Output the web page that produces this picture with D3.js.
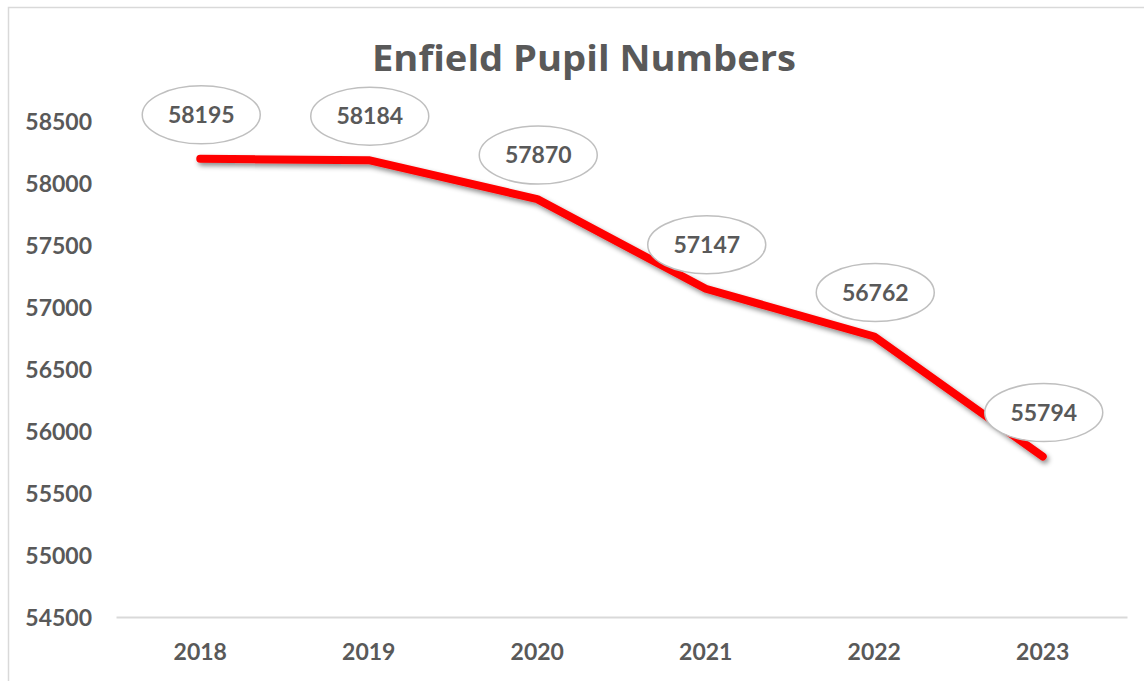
<!DOCTYPE html>
<html>
<head>
<meta charset="utf-8">
<script src="https://cdn.jsdelivr.net/npm/d3@7"></script>
<style>
  html, body { margin: 0; padding: 0; background: #fff; }
  svg { display: block; }
  text { font-family: Lato, "Open Sans", sans-serif; font-weight: 700; fill: #595959; }
</style>
</head>
<body>
<svg id="chart" width="1144" height="681"></svg>
<script>
const title = "Enfield Pupil Numbers";
const years = ["2018", "2019", "2020", "2021", "2022", "2023"];
const pupils = [58195, 58184, 57870, 57147, 56762, 55794];
const yTicks = [54500, 55000, 55500, 56000, 56500, 57000, 57500, 58000, 58500];

const svg = d3.select("#chart");
const W = 1144, H = 681;
const plot = { left: 116, right: 1127, top: 121, bottom: 617 };

svg.append("rect").attr("x", 0).attr("y", 0).attr("width", W).attr("height", H).attr("fill", "#fff");
svg.append("rect").attr("x", 8.5).attr("y", 7.5).attr("width", W + 20).attr("height", H + 20)
  .attr("fill", "none").attr("stroke", "#d9d9d9").attr("stroke-width", 1.5);

const defs = svg.append("defs");
const f = defs.append("filter").attr("id", "shadow").attr("x", "-10%").attr("y", "-10%").attr("width", "120%").attr("height", "130%");
f.append("feDropShadow").attr("dx", 2).attr("dy", 3).attr("stdDeviation", 2.5)
  .attr("flood-color", "#000").attr("flood-opacity", 0.45);

const x = d3.scaleBand().domain(years).range([plot.left, plot.right]);
const y = d3.scaleLinear().domain([54500, 58500]).range([plot.bottom, plot.top]);

// title
svg.append("text").attr("x", 584).attr("y", 71).attr("text-anchor", "middle")
  .style("font-family", "'Open Sans', Lato, sans-serif")
  .style("font-size", "35px").attr("textLength", 424).attr("lengthAdjust", "spacingAndGlyphs")
  .text(title);

// y axis
const yAxis = d3.axisLeft(y).tickValues(yTicks).tickSize(0).tickPadding(0).tickFormat(d3.format("d"));
const gy = svg.append("g").attr("transform", "translate(92,0)").call(yAxis);
gy.select(".domain").remove();
gy.selectAll("text").style("font-size", "23px").attr("fill", "#595959").attr("dy", "0.35em")
  .style("font-family", "Lato, 'Open Sans', sans-serif");

// x axis
const xAxis = d3.axisBottom(x).tickSize(0).tickPadding(0);
const gx = svg.append("g").attr("transform", `translate(0,${plot.bottom})`).call(xAxis);
gx.select(".domain").attr("stroke", "#d9d9d9").attr("stroke-width", 2);
gx.selectAll("text").style("font-size", "23px").attr("fill", "#595959").attr("y", 43).attr("dy", 0)
  .style("font-family", "Lato, 'Open Sans', sans-serif");

// line
const data = years.map((yr, i) => ({ yr, v: pupils[i] }));
const line = d3.line().x(d => x(d.yr) + x.bandwidth() / 2).y(d => y(d.v));
svg.append("path").datum(data).attr("d", line).attr("fill", "none")
  .attr("stroke", "#ff0000").attr("stroke-width", 8).attr("stroke-linecap", "round")
  .attr("stroke-linejoin", "round").attr("filter", "url(#shadow)");

// labels
const lbl = svg.append("g").selectAll("g").data(data).join("g")
  .attr("transform", d => `translate(${x(d.yr) + x.bandwidth() / 2 + 1},${y(d.v) - 44})`);
lbl.append("ellipse").attr("rx", 59).attr("ry", 29).attr("fill", "#fff")
  .attr("stroke", "#bfbfbf").attr("stroke-width", 1.5);
lbl.append("text").attr("text-anchor", "middle").attr("dy", "0.36em")
  .style("font-size", "23px").text(d => d.v);
</script>
</body>
</html>
